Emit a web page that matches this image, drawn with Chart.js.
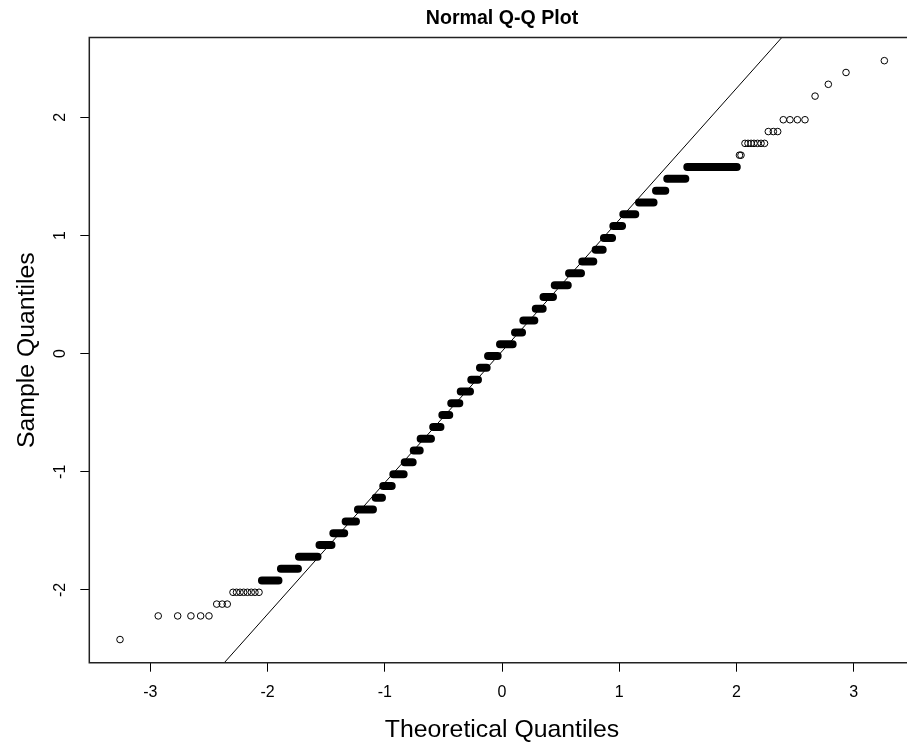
<!DOCTYPE html>
<html>
<head>
<meta charset="utf-8">
<title>Normal Q-Q Plot</title>
<script src="https://cdn.jsdelivr.net/npm/chart.js@4.4.1/dist/chart.umd.min.js"></script>
<style>
  html, body { margin: 0; padding: 0; background: #fff; overflow: hidden; }
  #wrap { width: 1004px; height: 745px; }
</style>
</head>
<body>
<div id="wrap"><canvas id="qq" width="1004" height="745"></canvas></div>
<script>
// single open circles in the tails (sample value, theoretical quantile)
const pointY = [-2.42,
  -2.22, -2.22, -2.22, -2.22, -2.22,
  -2.12, -2.12, -2.12,
  -2.02, -2.02, -2.02, -2.02, -2.02, -2.02, -2.02, -2.02,
  1.68, 1.68,
  1.78, 1.78, 1.78, 1.78, 1.78, 1.78, 1.78,
  1.88, 1.88, 1.88,
  1.98, 1.98, 1.98, 1.98,
  2.18, 2.28, 2.38, 2.48];
const pointX = [-3.259,
  -2.933, -2.767, -2.654, -2.571, -2.500,
  -2.434, -2.387, -2.344,
  -2.295, -2.265, -2.235, -2.204, -2.172, -2.139, -2.108, -2.073,
  2.026, 2.039,
  2.073, 2.099, 2.125, 2.150, 2.180, 2.210, 2.240,
  2.272, 2.315, 2.352,
  2.400, 2.457, 2.520, 2.585,
  2.671, 2.784, 2.935, 3.262];

// runs where circles overlap but are still partly open
const looseLevel = [-1.92, -1.82, -1.72, 1.58];
const looseFrom = [-2.048, -1.886, -1.732, 1.581];
const looseTo = [-1.907, -1.741, -1.574, 2.003];

// runs where the circles merge into a solid bar
const denseLevel = [-1.62, -1.52, -1.42, -1.32, -1.22, -1.12, -1.02, -0.92, -0.82, -0.72,
  -0.62, -0.52, -0.42, -0.32, -0.22, -0.12, -0.02, 0.08, 0.18, 0.28,
  0.38, 0.48, 0.58, 0.68, 0.78, 0.88, 0.98, 1.08, 1.18, 1.28, 1.38, 1.48];
const denseFrom = [-1.557, -1.439, -1.334, -1.229, -1.078, -1.013, -0.927, -0.830, -0.753, -0.694,
  -0.587, -0.509, -0.433, -0.352, -0.262, -0.188, -0.119, -0.017, 0.111, 0.182,
  0.288, 0.354, 0.450, 0.572, 0.685, 0.799, 0.870, 0.950, 1.035, 1.169, 1.314, 1.410];
const denseTo = [-1.455, -1.346, -1.246, -1.101, -1.024, -0.941, -0.839, -0.762, -0.702, -0.606,
  -0.525, -0.450, -0.364, -0.273, -0.205, -0.131, -0.037, 0.091, 0.171, 0.276,
  0.347, 0.435, 0.561, 0.674, 0.779, 0.859, 0.939, 1.024, 1.137, 1.293, 1.393, 1.564];

// qqline end points (where it leaves the plot box)
const lineX = [-2.369, 2.387];
const lineY = [-2.616, 2.676];

const xTicks = [-3, -2, -1, 0, 1, 2, 3];
const yTicks = [-2, -1, 0, 1, 2];

function runData(levels, from, to) {
  const out = [];
  for (let i = 0; i < levels.length; i++) {
    out.push({x: from[i], y: levels[i]});
    out.push({x: to[i], y: levels[i]});
    out.push({x: to[i], y: null});
  }
  return out;
}

const points = pointX.map((x, i) => ({x: x, y: pointY[i]}));

Chart.defaults.font.family = "'Liberation Sans', Arial, sans-serif";
Chart.defaults.color = '#000';

// box round the plot region (right side falls outside the picture anyway)
const boxPlugin = {
  id: 'box',
  afterDraw(chart) {
    const a = chart.chartArea;
    const ctx = chart.ctx;
    ctx.save();
    ctx.strokeStyle = '#222';
    ctx.lineWidth = 1.5;
    ctx.beginPath();
    ctx.moveTo(a.right, a.top);
    ctx.lineTo(a.left, a.top);
    ctx.lineTo(a.left, a.bottom);
    ctx.lineTo(a.right, a.bottom);
    ctx.stroke();
    ctx.restore();
  }
};

new Chart(document.getElementById('qq'), {
  type: 'scatter',
  data: {
    datasets: [
      {
        data: [{x: lineX[0], y: lineY[0]}, {x: lineX[1], y: lineY[1]}],
        showLine: true,
        borderColor: '#000',
        borderWidth: 1,
        pointRadius: 0
      },
      {
        data: runData(denseLevel, denseFrom, denseTo),
        showLine: true,
        spanGaps: false,
        borderColor: '#000',
        borderWidth: 8,
        borderCapStyle: 'round',
        pointRadius: 0
      },
      {
        data: runData(looseLevel, looseFrom, looseTo),
        showLine: true,
        spanGaps: false,
        borderColor: '#000',
        borderWidth: 8,
        borderCapStyle: 'round',
        pointRadius: 0
      },
      {
        data: runData(looseLevel, looseFrom, looseTo),
        showLine: true,
        spanGaps: false,
        borderColor: '#8a8a8a',
        borderWidth: 3.5,
        borderCapStyle: 'round',
        pointRadius: 0
      },
      {
        data: points,
        pointStyle: 'circle',
        pointRadius: 3.3,
        pointBorderWidth: 1,
        pointBackgroundColor: 'rgba(0,0,0,0)',
        pointBorderColor: '#000'
      }
    ]
  },
  options: {
    responsive: false,
    animation: false,
    events: [],
    layout: { padding: { left: 0, top: 0, bottom: 0, right: 89.3 }, autoPadding: false },
    plugins: {
      legend: { display: false },
      tooltip: { enabled: false },
      title: {
        display: true,
        fullSize: false,
        text: 'Normal Q-Q Plot',
        font: { size: 19.6, weight: 'bold' },
        padding: { top: 7, bottom: 7 },
        color: '#000'
      }
    },
    scales: {
      x: {
        type: 'linear',
        min: -3.521,
        max: 3.521,
        afterFit(scale) { scale.height = 82.3; },
        afterBuildTicks(scale) { scale.ticks = xTicks.map(v => ({value: v})); },
        ticks: { font: { size: 16 }, padding: 11, maxRotation: 0 },
        grid: { drawOnChartArea: false, drawTicks: true, tickLength: 9, tickColor: '#000' },
        border: { display: false },
        title: {
          display: true,
          text: 'Theoretical Quantiles',
          font: { size: 24.8 },
          padding: { top: 0, bottom: 0 }
        }
      },
      y: {
        type: 'linear',
        min: -2.616,
        max: 2.676,
        afterFit(scale) { scale.width = 89.3; },
        afterBuildTicks(scale) { scale.ticks = yTicks.map(v => ({value: v})); },
        ticks: { font: { size: 16 }, padding: 13, minRotation: 90, maxRotation: 90, crossAlign: 'center' },
        grid: { drawOnChartArea: false, drawTicks: true, tickLength: 9, tickColor: '#000' },
        border: { display: false },
        title: {
          display: true,
          text: 'Sample Quantiles',
          font: { size: 24.8 },
          padding: { top: 12, bottom: 0 }
        }
      }
    }
  },
  plugins: [boxPlugin]
});
</script>
</body>
</html>
